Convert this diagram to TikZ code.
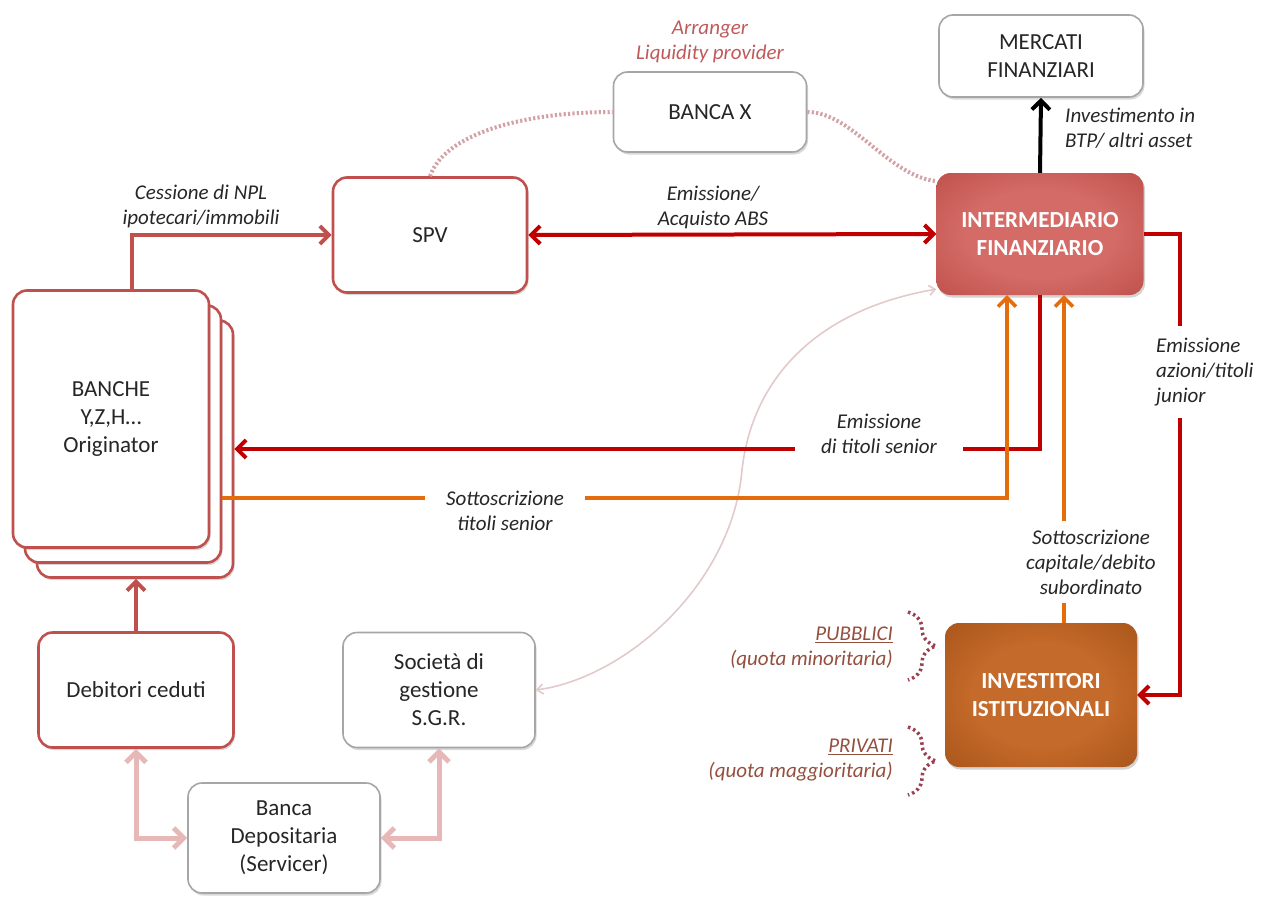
\documentclass[tikz,border=0pt]{standalone}
\usepackage{fontspec}
\setmainfont{Carlito}
\usetikzlibrary{arrows.meta,shadows,decorations.pathreplacing}
\definecolor{bord}{HTML}{A6A6A6}
\definecolor{redbord}{HTML}{C0504D}
\definecolor{darkred}{HTML}{C00000}
\definecolor{orng}{HTML}{E46C0A}
\definecolor{pinkl}{HTML}{E6B9B8}
\definecolor{dotc}{HTML}{D2A2A4}
\definecolor{faint}{HTML}{E3CACA}
\definecolor{medred}{HTML}{C0504D}
\definecolor{brn}{HTML}{94503F}
\definecolor{brace}{HTML}{9B4050}
\definecolor{arrtxt}{HTML}{C05A5A}
\definecolor{txt}{HTML}{262626}
\definecolor{shdL}{HTML}{D0D0D0}
\definecolor{shdR}{HTML}{EAEAEA}
\definecolor{intin}{HTML}{D46B66}
\definecolor{intout}{HTML}{B03C38}
\definecolor{invin}{HTML}{C46A2A}
\definecolor{invout}{HTML}{944510}
\pgfdeclarehorizontalshading{boxsh}{100bp}{color(0bp)=(shdL); color(16bp)=(white); color(84bp)=(white); color(100bp)=(shdR)}
\pgfdeclareradialshading{intsh}{\pgfpoint{0bp}{0bp}}{color(0bp)=(intin); color(18bp)=(intin); color(50bp)=(intout); color(75bp)=(intout)}
\pgfdeclareradialshading{invsh}{\pgfpoint{0bp}{0bp}}{color(0bp)=(invin); color(18bp)=(invin); color(50bp)=(invout); color(75bp)=(invout)}
\newcommand\boxf{\fontsize{23}{28}\selectfont}
\newcommand\lblf{\fontsize{21}{25}\selectfont}
\tikzset{
  mybarb/.tip={Straight Barb[length=9pt,width=18pt]},
  bigbarb/.tip={Straight Barb[length=10pt,width=20pt]},
  smallbarb/.tip={Straight Barb[length=6pt,width=10pt]},
  box/.style={rectangle, rounded corners=14pt, draw=bord, line width=1.6pt, shade, shading=boxsh,
    align=center, font=\boxf, text=txt, inner sep=2pt,
    drop shadow={opacity=0.3, shadow xshift=1.5pt, shadow yshift=-2.5pt}},
  redbox/.style={box, draw=redbord, line width=2.6pt},
  fullbox/.style={rectangle, rounded corners=14pt, draw=none, shade, align=center,
    font=\boxf\bfseries, text=white, inner sep=2pt,
    drop shadow={opacity=0.35, shadow xshift=1.5pt, shadow yshift=-2.5pt}},
  lbl/.style={font=\lblf\itshape, align=center, text=txt, inner sep=1pt},
  gaplbl/.style={lbl, fill=white},
  drarr/.style={draw=darkred, line width=4pt, -mybarb},
  mrarr/.style={draw=medred, line width=4pt, -mybarb},
  orarr/.style={draw=orng, line width=3.5pt, -mybarb},
  pkarr/.style={draw=pinkl, line width=5pt, bigbarb-bigbarb},
  dotline/.style={draw=dotc, line width=4pt, dash pattern=on 2.2pt off 2.2pt},
  bracestyle/.style={draw=brace, line width=3.5pt, dash pattern=on 2.5pt off 3pt,
    decorate, decoration={brace, amplitude=28pt}},
  pubtxt/.style={font=\lblf\itshape, align=right, text=brn, inner sep=1pt}
}
\begin{document}
\begin{tikzpicture}[x=1pt, y=-1pt]
\useasboundingbox (0,0) rectangle (1265,897);

% boxes
\node[box, minimum width=204pt, minimum height=82pt] (merc) at (1041,56) {MERCATI\\FINANZIARI};
\node[box, minimum width=193pt, minimum height=80pt] (bx) at (710,112) {BANCA X};
\node[lbl, text=arrtxt] (arr) at (710,42) {Arranger\\Liquidity provider};
\node[redbox, minimum width=194pt, minimum height=115pt] (spv) at (430,235) {SPV};
\node[fullbox, shading=intsh, minimum width=207pt, minimum height=122pt] (int) at (1040,234) {INTERMEDIARIO\\FINANZIARIO};

\node[redbox, minimum width=196pt, minimum height=257pt] (b3) at (135,449) {};
\node[redbox, minimum width=196pt, minimum height=257pt] (b2) at (123,434) {};
\node[redbox, minimum width=196pt, minimum height=257pt] (b1) at (111,419) {BANCHE\\Y,Z,H…\\Originator};

\node[redbox, minimum width=195pt, minimum height=115pt] (deb) at (136,690) {Debitori ceduti};
\node[box, minimum width=192pt, minimum height=115pt] (sgr) at (439,690) {Società di\\gestione\\S.G.R.};
\node[box, minimum width=192pt, minimum height=110pt] (bd) at (284,838) {Banca\\Depositaria\\(Servicer)};
\node[fullbox, shading=invsh, minimum width=192pt, minimum height=144pt] (inv) at (1041,695) {INVESTITORI\\ISTITUZIONALI};

% coordinates
\coordinate (sotL) at (b2.east |- 0,498);
\coordinate (jr) at (1180,695);
\coordinate (fmid) at (742,470);

% faint curve SGR <-> Intermediario
\draw[draw=faint, line width=1.6pt, smallbarb-smallbarb]
  (int.208) .. controls (815,310) and (752,380) .. (fmid)
  .. controls (732,585) and (625,678) .. (sgr.east);

% dotted Banca X curves
\draw[dotline] (spv.north) .. controls (444,135) and (520,112) .. (bx.west);
\draw[dotline] (bx.east) .. controls (852,112) and (888,176) .. (int.153);

% connectors
\draw[mrarr] (b1.north -| 132,0) |- (spv.west);
\draw[draw=darkred, line width=4pt, mybarb-mybarb] (spv.east) -- (int.west);
\draw[draw=black, line width=4pt, -mybarb] (int.north) -- (merc.south);
\draw[drarr] (int.south) |- (b3.east);
\draw[orarr] (sotL) -| (int.south -| 1007,0);
\draw[orarr] (inv.north -| 1064,0) -- (int.south -| 1064,0);
\draw[drarr] (int.east) -| (jr) -- (inv.east);
\draw[mrarr] (deb.north) -- (deb.north |- b3.south);
\draw[pkarr] (deb.south) |- (bd.west);
\draw[pkarr] (sgr.south) |- (bd.east);

% labels
\node[lbl] (l1) at (201,206) {Cessione di NPL\\ipotecari/immobili};
\node[lbl] (l2) at (713,207) {Emissione/\\Acquisto ABS};
\node[lbl, anchor=west, align=left] (l3) at (1064,128) {Investimento in\\BTP/ altri asset};
\node[gaplbl, inner xsep=26pt, inner ysep=4pt] (l4) at (879,434) {Emissione\\di titoli senior};
\node[gaplbl, inner xsep=21pt, inner ysep=4pt] (l5) at (505,511) {Sottoscrizione\\titoli senior};
\node[gaplbl, inner xsep=3pt, inner ysep=9pt] (l6) at (1091,562) {Sottoscrizione\\capitale/debito\\subordinato};
\node[gaplbl, anchor=west, align=left, inner xsep=3pt, inner ysep=12pt] (l7) at (1153,372) {Emissione\\azioni/titoli\\junior};

% investors categories
\node[pubtxt, anchor=east] (pub) at (894,648) {\underline{PUBBLICI}\\(quota minoritaria)};
\node[pubtxt, anchor=east] (pri) at (894,760) {\underline{PRIVATI}\\(quota maggioritaria)};
\draw[bracestyle] (908,612) -- (908,680);
\draw[bracestyle] (908,727) -- (908,795);
\end{tikzpicture}
\end{document}
